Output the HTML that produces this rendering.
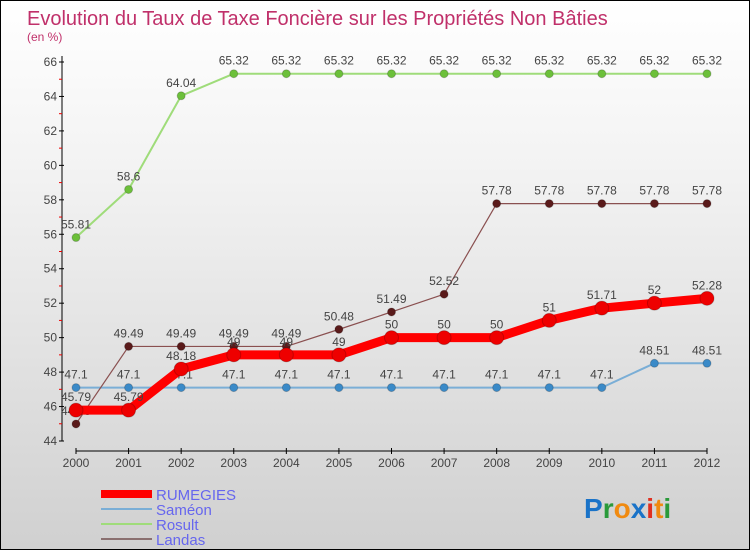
<!DOCTYPE html>
<html><head><meta charset="utf-8"><style>
html,body{margin:0;padding:0;}
body{width:750px;height:550px;overflow:hidden;font-family:"Liberation Sans",sans-serif;}
#wrap{position:relative;width:748px;height:548px;border:1px solid #000;background:linear-gradient(#ffffff,#f3f3f3 30%,#d0d0d0);}
</style></head><body>
<div id="wrap">
<svg id="chart" width="748" height="548" xmlns="http://www.w3.org/2000/svg">
<text x="26" y="24" font-size="20" fill="#c0306a">Evolution du Taux de Taxe Foncière sur les Propriétés Non Bâties</text>
<text x="26" y="40" font-size="12" fill="#c0306a">(en %)</text>
<g id="axes"></g><g id="series"></g><g id="legend"></g>
<text x="583" y="517" font-size="28" font-weight="bold"><tspan fill="#1a73c8">P</tspan><tspan fill="#2a9a3a">r</tspan><tspan fill="#f08a10">o</tspan><tspan fill="#1a73c8">x</tspan><tspan fill="#e03020">i</tspan><tspan fill="#f08a10">t</tspan><tspan fill="#2a9a3a">i</tspan></text>
</svg></div>
<script>
const years=[2000,2001,2002,2003,2004,2005,2006,2007,2008,2009,2010,2011,2012];
const yTicks=[44,46,48,50,52,54,56,58,60,62,64,66];
const rumegies=[45.79,45.79,48.18,49,49,49,50,50,50,51,51.71,52,52.28];
const sameon=[47.1,47.1,47.1,47.1,47.1,47.1,47.1,47.1,47.1,47.1,47.1,48.51,48.51];
const rosult=[55.81,58.6,64.04,65.32,65.32,65.32,65.32,65.32,65.32,65.32,65.32,65.32,65.32];
const landas=[44.99,49.49,49.49,49.49,49.49,50.48,51.49,52.52,57.78,57.78,57.78,57.78,57.78];
const NS="http://www.w3.org/2000/svg";
const x=i=>75+i*(706-75)/(years.length-1);
const y=v=>440-(v-44)*(440-61)/22;
function mk(tag,attrs,parent){const e=document.createElementNS(NS,tag);for(const k in attrs)e.setAttribute(k,attrs[k]);parent.appendChild(e);return e;}
const axes=document.getElementById('axes');
let a=mk('line',{x1:61,y1:55,x2:61,y2:440,stroke:'#000'},axes);


yTicks.forEach(t=>{
  const l=mk('line',{x1:58,y1:y(t),x2:63,y2:y(t),stroke:'#000'},axes);
  
  
  if(t<66){const m=mk('line',{x1:58,y1:y(t+1),x2:61,y2:y(t+1),stroke:'#e00'},axes);
  
  }
  const tx=mk('text',{x:56,y:y(t)+4,'text-anchor':'end','font-size':12,fill:'#444'},axes);
  tx.textContent=t;
  
  
});
a=mk('line',{x1:75,y1:450,x2:706,y2:450,stroke:'#000'},axes);


years.forEach((yr,i)=>{
  const l=mk('line',{x1:x(i),y1:447,x2:x(i),y2:453,stroke:'#000'},axes);
  
  
  const tx=mk('text',{x:x(i),y:466,'text-anchor':'middle','font-size':12,fill:'#444'},axes);
  tx.textContent=yr;
  
  
});
const ser=document.getElementById('series');
const defs=[
 {name:'sameon',data:sameon,color:'#7aaed6',dot:'#3a8ac8',w:2,r:4},
 {name:'rosult',data:rosult,color:'#9fdc7a',dot:'#6cc03a',w:2,r:4},
 {name:'landas',data:landas,color:'#8a5050',dot:'#5a1a1a',w:1.2,r:4},
 {name:'rumegies',data:rumegies,color:'#ff0000',dot:'#ee0000',w:9,r:7}
];
defs.forEach(s=>{
  const p=mk('polyline',{points:s.data.map((v,i)=>x(i)+','+y(v)).join(' '),fill:'none',stroke:s.color,'stroke-width':s.w,'stroke-linejoin':'round'},ser);
  
  
  s.data.forEach((v,i)=>{
    const c=mk('circle',{cx:x(i),cy:y(v),r:s.r,fill:s.dot,stroke:'rgba(0,0,0,0.2)'},ser);
    
    
    const t=mk('text',{x:x(i),y:y(v)-9,'text-anchor':'middle','font-size':12,fill:'#444'},ser);
    t.textContent=String(v);
    
    
  });
});
const leg=document.getElementById('legend');
const legItems=[['RUMEGIES','#ff0000',8],['Saméon','#7aaed6',2],['Rosult','#9fdc7a',2],['Landas','#8a7070',2]];
legItems.forEach((it,i)=>{
  const yy=493+i*15;
  const l=mk('line',{x1:100,y1:yy,x2:151,y2:yy,stroke:it[1],'stroke-width':it[2]},leg);
  
  
  const t=mk('text',{x:155,y:yy+6,'font-size':15,fill:'#6666ee'},leg);
  t.textContent=it[0];
  
  
});
</script>
</body></html>
